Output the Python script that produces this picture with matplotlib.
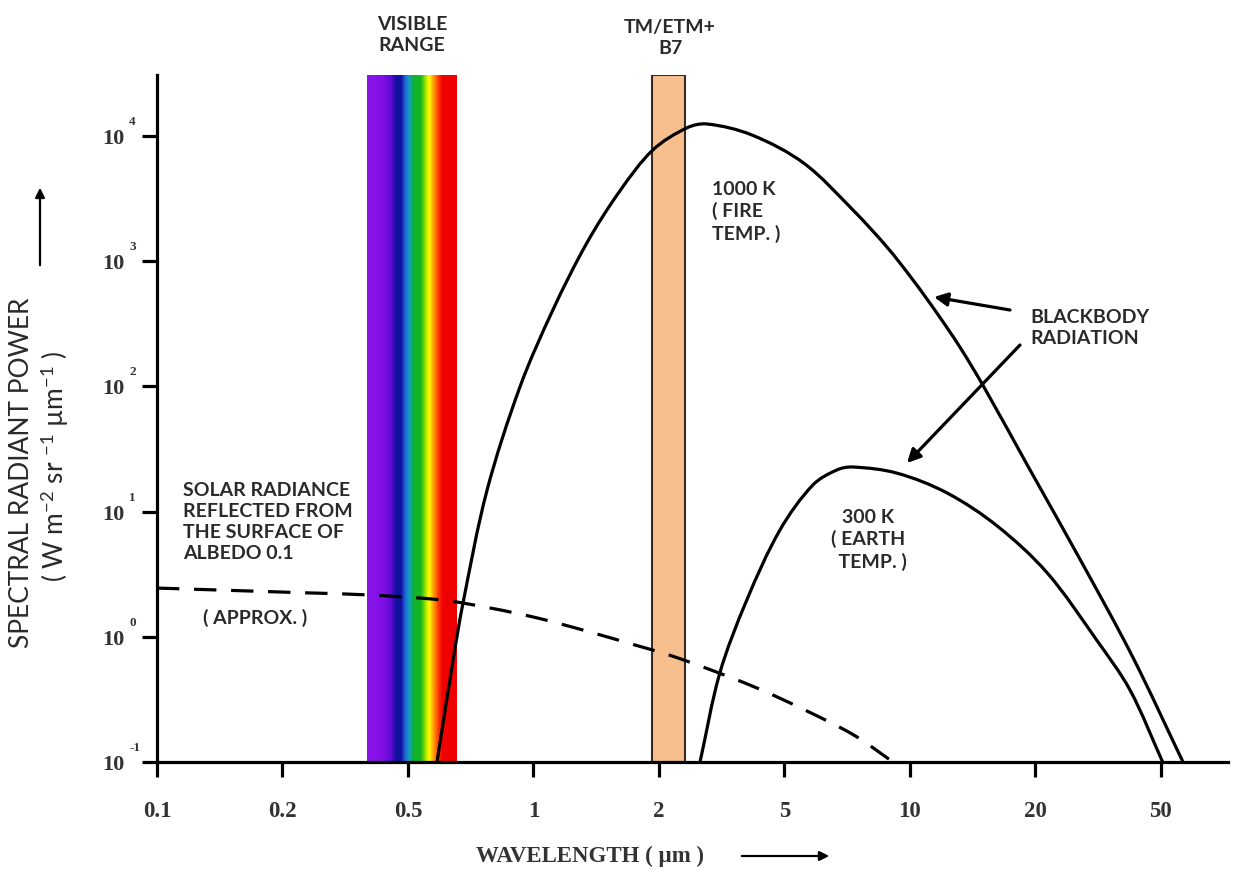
import numpy as np
import matplotlib
matplotlib.use('Agg')
import matplotlib.pyplot as plt
from matplotlib.colors import LinearSegmentedColormap
from matplotlib.path import Path
from matplotlib.patches import PathPatch, FancyArrowPatch
from matplotlib.transforms import offset_copy

plt.rcParams['mathtext.fontset'] = 'custom'
plt.rcParams['mathtext.rm'] = 'Lato'
plt.rcParams['mathtext.it'] = 'Lato:italic'
plt.rcParams['mathtext.bf'] = 'Lato:bold'

# ---------------- data ----------------
x_ticks = [0.1, 0.2, 0.5, 1, 2, 5, 10, 20, 50]
x_tick_labels = ['0.1', '0.2', '0.5', '1', '2', '5', '10', '20', '50']
y_ticks = [1e-1, 1e0, 1e1, 1e2, 1e3, 1e4]
y_tick_exps = ['-1', '0', '1', '2', '3', '4']

wl_1000k = [0.587, 0.641, 0.677, 0.773, 0.928, 1.113, 1.343, 1.612, 1.934, 2.45,
            2.84, 3.94, 5.57, 7.30, 8.81, 10.17, 11.61, 13.18, 15.05, 19.3,
            27.9, 40.7, 56.5]
rad_1000k = [0.1, 0.641, 1.83, 14.6, 98.9, 407, 1397, 3640, 7730, 11590,
             12470, 10190, 6050, 2565, 1297, 708, 385, 206, 98.9, 22.3,
             4.03, 0.69, 0.1]

wl_300k = [2.70, 3.12, 3.80, 4.84, 5.85, 6.68, 7.30, 9.30, 12.27, 16.2,
           21.8, 31.3, 39.9, 50.5]
rad_300k = [0.1, 0.514, 1.97, 7.13, 16.3, 21.5, 22.7, 20.3, 14.1, 7.67,
            3.24, 0.94, 0.376, 0.1]

wl_solar = [0.1, 0.244, 0.373, 0.600, 0.786, 1.025, 1.343, 1.752, 2.15, 2.76,
            4.09, 5.60, 7.34, 9.11]
rad_solar = [2.45, 2.24, 2.16, 1.97, 1.70, 1.41, 1.11, 0.86, 0.716, 0.574,
             0.390, 0.260, 0.164, 0.1]

visible_range = [0.37, 0.655]
tm_b7_range = [1.92, 2.42]

spectrum_colors = ['#8a14e8', '#8010e6', '#5a0ad0', '#14109e', '#1010a0', '#2060d0',
                   '#10a0c0', '#10b030', '#18b820', '#a0e000', '#ffff00', '#ffa000',
                   '#ff4000', '#f00000', '#ee0000']
spectrum_stops = [0.0, 0.18, 0.27, 0.32, 0.38, 0.42, 0.47, 0.52, 0.60, 0.65,
                  0.69, 0.74, 0.79, 0.84, 1.0]

# ---------------- scale (equally spaced 1-2-5 ticks) ----------------
_sv = np.log10([0.05] + x_ticks + [100, 200])
_si = np.arange(-1, len(_sv) - 1, dtype=float)


def fwd(x):
    x = np.asarray(x, dtype=float)
    with np.errstate(divide='ignore', invalid='ignore'):
        lx = np.log10(np.where(x > 0, x, np.nan))
    return np.interp(lx, _sv, _si)


def inv(i):
    i = np.asarray(i, dtype=float)
    return 10 ** np.interp(i, _si, _sv)


W, H = 1236, 873


def P(x, y):
    return (x / W, 1 - y / H)


def smooth_curve(ax, xs, ys, **kw):
    """Smooth cubic Bezier path (chord-length Catmull-Rom) through the read points."""
    u = np.asarray(fwd(xs))
    v = np.log10(np.asarray(ys, dtype=float))
    p = np.column_stack([u, v])
    n = len(p)
    d = np.hypot(*np.diff(p, axis=0).T)
    t = np.concatenate([[0.0], np.cumsum(d)])
    T = np.zeros_like(p)
    T[0] = (p[1] - p[0]) / (t[1] - t[0])
    T[-1] = (p[-1] - p[-2]) / (t[-1] - t[-2])
    for k in range(1, n - 1):
        T[k] = (p[k + 1] - p[k - 1]) / (t[k + 1] - t[k - 1])
    verts = [p[0]]
    codes = [Path.MOVETO]
    for k in range(n - 1):
        h = t[k + 1] - t[k]
        verts += [p[k] + T[k] * h / 3.0, p[k + 1] - T[k + 1] * h / 3.0, p[k + 1]]
        codes += [Path.CURVE4] * 3
    verts = np.array(verts)
    verts = np.column_stack([inv(verts[:, 0]), 10 ** verts[:, 1]])
    patch = PathPatch(Path(verts, codes), fill=False, transform=ax.transData, **kw)
    ax.add_patch(patch)
    return patch


fig = plt.figure(figsize=(W / 100, H / 100), dpi=100)
ax = fig.add_axes([157 / W, (H - 762) / H, (1228 - 157) / W, (762 - 75) / H])
ax.set_xscale('function', functions=(fwd, inv))
ax.set_yscale('log')
ax.set_xlim(0.1, float(inv(8.535)))
ax.set_ylim(0.1, 10 ** 4.487)

# visible spectrum band
cmap = LinearSegmentedColormap.from_list('spec', list(zip(spectrum_stops, spectrum_colors)))
i0, i1 = fwd(visible_range[0]), fwd(visible_range[1])
N = 90
edges = inv(np.linspace(i0, i1, N + 1))
for k in range(N):
    ax.axvspan(edges[k], edges[k + 1], color=cmap((k + 0.5) / N), lw=0, zorder=1)

# TM/ETM+ B7 band
ax.axvspan(tm_b7_range[0], tm_b7_range[1], facecolor='#f8bf8e', edgecolor='#3a2a20',
           lw=1.5, zorder=1)

lw = 2.3
smooth_curve(ax, wl_1000k, rad_1000k, edgecolor='black', lw=lw, zorder=3, capstyle='butt')
smooth_curve(ax, wl_300k, rad_300k, edgecolor='black', lw=lw, zorder=3, capstyle='butt')
smooth_curve(ax, wl_solar, rad_solar, edgecolor='black', lw=lw, zorder=3,
             linestyle=(0, (7, 4.6)), capstyle='butt')

# axes styling
for s in ['top', 'right']:
    ax.spines[s].set_visible(False)
for s in ['left', 'bottom']:
    ax.spines[s].set_linewidth(2.3)
    ax.spines[s].set_zorder(4)
ax.minorticks_off()
ax.set_xticks(x_ticks)
ax.set_xticklabels(x_tick_labels, family='Liberation Serif', fontweight='bold',
                   fontsize=16.5, color='#333333')
ax.set_yticks(y_ticks)
ax.set_yticklabels([''] * len(y_ticks))
ax.tick_params(axis='x', which='major', length=11, width=2.3, direction='out', pad=17)
ax.tick_params(axis='y', which='major', length=11, width=2.3, direction='out', pad=3)
ax.tick_params(which='minor', length=0)

# y tick labels: "10" with a small raised exponent
ytr = ax.get_yaxis_transform()
base_tr = offset_copy(ytr, fig=fig, x=0, y=-3, units='dots')
exp_tr = offset_copy(ytr, fig=fig, x=0, y=14, units='dots')
for v, e in zip(y_ticks, y_tick_exps):
    ax.text((125 - 157) / 1071, v, '10', transform=base_tr, ha='right', va='center',
            family='Liberation Serif', fontweight='bold', fontsize=16, color='#333333',
            clip_on=False)
    ax.text((129 - 157) / 1071, v, e, transform=exp_tr, ha='left', va='center',
            family='Liberation Serif', fontweight='bold', fontsize=9.5, color='#333333',
            clip_on=False)

# axis labels
fig.text(*P(590, 856), 'WAVELENGTH ( µm )', family='Liberation Serif', fontweight='bold',
         fontsize=16.5, color='#333333', ha='center', va='center')
fig.add_artist(FancyArrowPatch(P(739, 856), P(832, 856),
               arrowstyle='-|>', mutation_scale=14, lw=1.6, color='black'))
fig.text(*P(22, 473), 'SPECTRAL RADIANT POWER', family='Lato', fontsize=19,
         color='#2a2a2a', rotation=90, ha='center', va='center')
fig.text(*P(55, 466), r'( W m$^{-2}$ sr $^{-1}$ µm$^{-1}$ )', family='Lato', fontsize=19,
         color='#2a2a2a', rotation=90, ha='center', va='center')
fig.add_artist(FancyArrowPatch(P(40, 268), P(40, 185),
               arrowstyle='-|>', mutation_scale=14, lw=1.6, color='black'))

# annotations
tkw = dict(family='Lato', fontweight='bold', fontsize=14, color='#2a2a2a', linespacing=1.3)
fig.text(*P(412, 35), 'VISIBLE\nRANGE', ha='center', va='center', **tkw)
fig.text(*P(670, 38), 'TM/ETM+\nB7', ha='center', va='center', **tkw)
fig.text(*P(712, 212), '1000 K\n( FIRE\nTEMP. )', ha='left', va='center', **tkw)
fig.text(*P(1030, 328), 'BLACKBODY\nRADIATION', ha='left', va='center', **tkw)
fig.text(*P(868, 540), '300 K\n( EARTH\n  TEMP. )', ha='center', va='center', **tkw)
fig.text(*P(183, 522), 'SOLAR RADIANCE\nREFLECTED FROM\nTHE SURFACE OF\nALBEDO 0.1',
         ha='left', va='center', **tkw)
fig.text(*P(255, 618), '( APPROX. )', ha='center', va='center', **tkw)

akw = dict(arrowstyle='-|>', mutation_scale=20, lw=2.3, color='black',
           shrinkA=0, shrinkB=0)
ax.annotate('', xy=P(934, 297), xycoords='figure fraction', xytext=P(1010, 310),
            textcoords='figure fraction', arrowprops=akw)
ax.annotate('', xy=P(907, 463), xycoords='figure fraction', xytext=P(1020, 345),
            textcoords='figure fraction', arrowprops=akw)

fig.savefig('out.png', dpi=100, facecolor='white')
